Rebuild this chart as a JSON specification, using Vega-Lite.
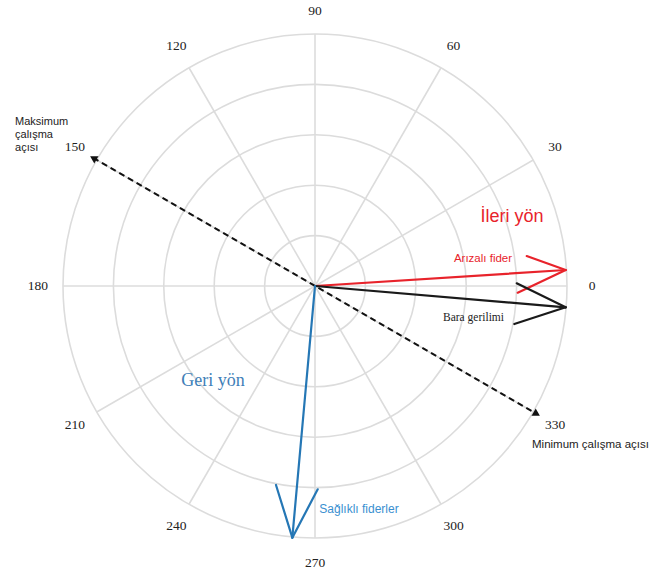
{
  "$schema": "https://vega.github.io/schema/vega-lite/v6.json",
  "width": 504,
  "height": 504,
  "autosize": {"type": "none"},
  "padding": {"left": 63, "top": 34, "right": 88, "bottom": 39},
  "background": "white",
  "config": {"view": {"stroke": null}},
  "datasets": {
    "rings": [{"r": 1}, {"r": 2}, {"r": 3}, {"r": 4}, {"r": 5}],
    "spokes": [
      {"x": 5, "y": 0, "x2": -5, "y2": 0},
      {"x": 4.330, "y": 2.5, "x2": -4.330, "y2": -2.5},
      {"x": 2.5, "y": 4.330, "x2": -2.5, "y2": -4.330},
      {"x": 0, "y": 5, "x2": 0, "y2": -5},
      {"x": -2.5, "y": 4.330, "x2": 2.5, "y2": -4.330},
      {"x": -4.330, "y": 2.5, "x2": 4.330, "y2": -2.5}
    ],
    "vectors": [
      {"series": "Arızalı fider", "x": 0, "y": 0, "x2": 4.974, "y2": 0.317},
      {"series": "Arızalı fider", "x": 4.974, "y": 0.317, "x2": 4.200, "y2": 0.595},
      {"series": "Arızalı fider", "x": 4.974, "y": 0.317, "x2": 4.022, "y2": -0.133},
      {"series": "Bara gerilimi", "x": 0, "y": 0, "x2": 4.974, "y2": -0.423},
      {"series": "Bara gerilimi", "x": 4.974, "y": -0.423, "x2": 4.002, "y2": 0.054},
      {"series": "Bara gerilimi", "x": 4.974, "y": -0.423, "x2": 3.954, "y2": -0.754},
      {"series": "Sağlıklı fiderler", "x": 0, "y": 0, "x2": -0.450, "y2": -4.994},
      {"series": "Sağlıklı fiderler", "x": -0.450, "y": -4.994, "x2": -0.774, "y2": -3.948},
      {"series": "Sağlıklı fiderler", "x": -0.450, "y": -4.994, "x2": 0.054, "y2": -4.034}
    ],
    "dashed": [{"x": -4.40, "y": 2.54, "x2": 4.40, "y2": -2.54}],
    "heads": [
      {"dir": "max", "x": -4.40, "y": 2.54},
      {"dir": "min", "x": 4.40, "y": -2.54}
    ],
    "angles": [
      {"text": "0", "x": 5.5, "y": 0},
      {"text": "30", "x": 4.763, "y": 2.75},
      {"text": "60", "x": 2.75, "y": 4.763},
      {"text": "90", "x": 0, "y": 5.45},
      {"text": "120", "x": -2.75, "y": 4.763},
      {"text": "150", "x": -4.763, "y": 2.75},
      {"text": "180", "x": -5.5, "y": 0},
      {"text": "210", "x": -4.763, "y": -2.75},
      {"text": "240", "x": -2.75, "y": -4.763},
      {"text": "270", "x": 0, "y": -5.5},
      {"text": "300", "x": 2.75, "y": -4.763},
      {"text": "330", "x": 4.763, "y": -2.75}
    ],
    "notes": [
      {"kind": "ileri", "text": "İleri yön", "x": 3.909, "y": 1.369},
      {"kind": "ariza", "text": "Arızalı fider", "x": 3.333, "y": 0.536},
      {"kind": "bara", "text": "Bara gerilimi", "x": 3.145, "y": -0.635},
      {"kind": "geri", "text": "Geri yön", "x": -2.024, "y": -1.885},
      {"kind": "saglikli", "text": "Sağlıklı fiderler", "x": 0.873, "y": -4.425},
      {"kind": "min", "text": "Minimum çalışma açısı", "x": 5.466, "y": -3.155},
      {"kind": "max", "text": "Maksimum\nçalışma\naçısı", "x": -5.952, "y": 3.37}
    ]
  },
  "layer": [
    {
      "data": {"name": "rings"},
      "mark": {"type": "arc", "theta": 0, "theta2": 6.2832, "fillOpacity": 0, "stroke": "#dcdcdc", "strokeWidth": 1.6},
      "encoding": {
        "radius": {"field": "r", "type": "quantitative", "stack": null, "scale": {"type": "linear", "domain": [0, 5], "range": [0, 252]}, "legend": null}
      }
    },
    {
      "data": {"name": "spokes"},
      "mark": {"type": "rule", "stroke": "#dcdcdc", "strokeWidth": 1.6},
      "encoding": {
        "x": {"field": "x", "type": "quantitative", "scale": {"domain": [-5, 5], "nice": false, "zero": false}, "axis": null},
        "y": {"field": "y", "type": "quantitative", "scale": {"domain": [-5, 5], "nice": false, "zero": false}, "axis": null},
        "x2": {"field": "x2"},
        "y2": {"field": "y2"}
      }
    },
    {
      "data": {"name": "dashed"},
      "mark": {"type": "rule", "stroke": "#111111", "strokeWidth": 2, "strokeDash": [6, 4]},
      "encoding": {
        "x": {"field": "x", "type": "quantitative"},
        "y": {"field": "y", "type": "quantitative"},
        "x2": {"field": "x2"},
        "y2": {"field": "y2"}
      }
    },
    {
      "data": {"name": "heads"},
      "transform": [{"filter": "datum.dir === 'max'"}],
      "mark": {"type": "point", "shape": "triangle-up", "filled": true, "color": "#111111", "size": 70, "angle": 300, "opacity": 1},
      "encoding": {
        "x": {"field": "x", "type": "quantitative"},
        "y": {"field": "y", "type": "quantitative"}
      }
    },
    {
      "data": {"name": "heads"},
      "transform": [{"filter": "datum.dir === 'min'"}],
      "mark": {"type": "point", "shape": "triangle-up", "filled": true, "color": "#111111", "size": 70, "angle": 120, "opacity": 1},
      "encoding": {
        "x": {"field": "x", "type": "quantitative"},
        "y": {"field": "y", "type": "quantitative"}
      }
    },
    {
      "data": {"name": "vectors"},
      "mark": {"type": "rule", "strokeWidth": 2.2, "strokeCap": "round"},
      "encoding": {
        "x": {"field": "x", "type": "quantitative"},
        "y": {"field": "y", "type": "quantitative"},
        "x2": {"field": "x2"},
        "y2": {"field": "y2"},
        "color": {"field": "series", "type": "nominal", "scale": {"domain": ["Arızalı fider", "Bara gerilimi", "Sağlıklı fiderler"], "range": ["#e8232b", "#1a1a1a", "#2577b5"]}, "legend": null}
      }
    },
    {
      "data": {"name": "angles"},
      "mark": {"type": "text", "font": "Liberation Serif", "fontSize": 13.5, "color": "#222222", "align": "center", "baseline": "middle"},
      "encoding": {
        "x": {"field": "x", "type": "quantitative"},
        "y": {"field": "y", "type": "quantitative"},
        "text": {"field": "text"}
      }
    },
    {
      "data": {"name": "notes"},
      "transform": [{"filter": "datum.kind === 'ileri'"}],
      "mark": {"type": "text", "font": "Liberation Sans", "fontSize": 18, "color": "#e8232b", "align": "center", "baseline": "middle"},
      "encoding": {"x": {"field": "x", "type": "quantitative"}, "y": {"field": "y", "type": "quantitative"}, "text": {"field": "text"}}
    },
    {
      "data": {"name": "notes"},
      "transform": [{"filter": "datum.kind === 'ariza'"}],
      "mark": {"type": "text", "font": "Liberation Sans", "fontSize": 11.5, "color": "#e8232b", "align": "center", "baseline": "middle"},
      "encoding": {"x": {"field": "x", "type": "quantitative"}, "y": {"field": "y", "type": "quantitative"}, "text": {"field": "text"}}
    },
    {
      "data": {"name": "notes"},
      "transform": [{"filter": "datum.kind === 'bara'"}],
      "mark": {"type": "text", "font": "Liberation Serif", "fontSize": 11.5, "color": "#222222", "align": "center", "baseline": "middle"},
      "encoding": {"x": {"field": "x", "type": "quantitative"}, "y": {"field": "y", "type": "quantitative"}, "text": {"field": "text"}}
    },
    {
      "data": {"name": "notes"},
      "transform": [{"filter": "datum.kind === 'geri'"}],
      "mark": {"type": "text", "font": "Liberation Serif", "fontSize": 18, "color": "#3f80b8", "align": "center", "baseline": "middle"},
      "encoding": {"x": {"field": "x", "type": "quantitative"}, "y": {"field": "y", "type": "quantitative"}, "text": {"field": "text"}}
    },
    {
      "data": {"name": "notes"},
      "transform": [{"filter": "datum.kind === 'saglikli'"}],
      "mark": {"type": "text", "font": "Liberation Sans", "fontSize": 12, "color": "#3a8fd0", "align": "center", "baseline": "middle"},
      "encoding": {"x": {"field": "x", "type": "quantitative"}, "y": {"field": "y", "type": "quantitative"}, "text": {"field": "text"}}
    },
    {
      "data": {"name": "notes"},
      "transform": [{"filter": "datum.kind === 'min'"}],
      "mark": {"type": "text", "font": "Liberation Sans", "fontSize": 11.5, "color": "#222222", "align": "center", "baseline": "middle"},
      "encoding": {"x": {"field": "x", "type": "quantitative"}, "y": {"field": "y", "type": "quantitative"}, "text": {"field": "text"}}
    },
    {
      "data": {"name": "notes"},
      "transform": [{"filter": "datum.kind === 'max'"}],
      "mark": {"type": "text", "font": "Liberation Sans", "fontSize": 11, "color": "#222222", "align": "left", "baseline": "top", "lineBreak": "\n", "lineHeight": 13},
      "encoding": {"x": {"field": "x", "type": "quantitative"}, "y": {"field": "y", "type": "quantitative"}, "text": {"field": "text"}}
    }
  ]
}
